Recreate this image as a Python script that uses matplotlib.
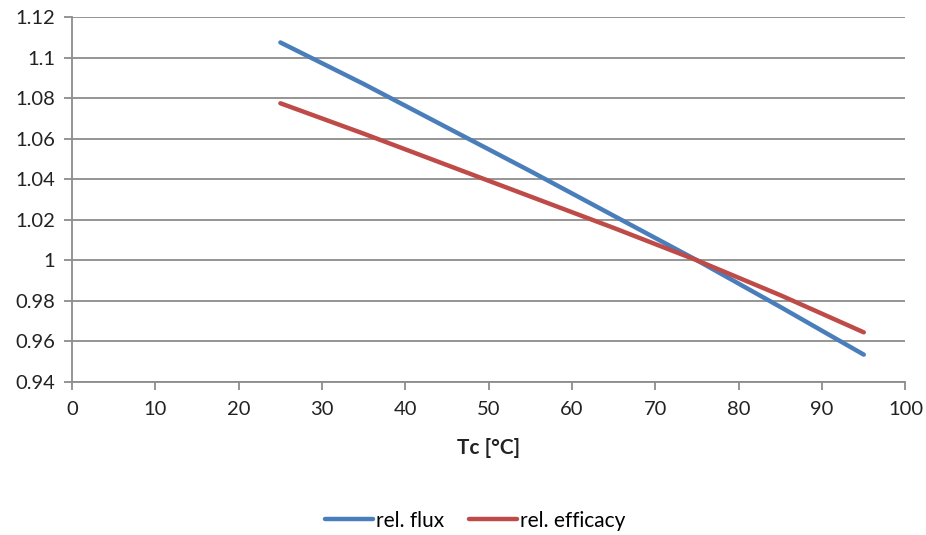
import matplotlib
matplotlib.use("Agg")
import matplotlib.pyplot as plt
import numpy as np

# values
tc = [25, 35, 45, 55, 65, 75, 85, 95]
rel_flux = [1.1075, 1.087, 1.0655, 1.044, 1.022, 1.0, 0.977, 0.9535]
rel_efficacy = [1.0775, 1.0625, 1.047, 1.0315, 1.016, 1.0, 0.9828, 0.9645]

plt.rcParams['font.family'] = ['Lato', 'DejaVu Sans']

fig = plt.figure(figsize=(9.26, 5.35), dpi=100)
ax = fig.add_axes([0.0778, 0.286, 0.9, 0.682])

grid_col = '#8c8c8c'
ax.plot(tc, rel_flux, color='#4a7ebb', lw=3.2, solid_capstyle='round', label='rel. flux')
ax.plot(tc, rel_efficacy, color='#be4b48', lw=3.2, solid_capstyle='round', label='rel. efficacy')

ax.set_xlim(0, 100)
ax.set_ylim(0.94, 1.12)
ax.set_xticks(np.arange(0, 101, 10))
ax.set_yticks(np.arange(0.94, 1.121, 0.02))
ax.set_yticklabels(['0.94', '0.96', '0.98', '1', '1.02', '1.04', '1.06', '1.08', '1.1', '1.12'])
ax.grid(axis='y', color=grid_col, lw=1.3)
ax.set_axisbelow(True)
for s in ['top', 'right']:
    ax.spines[s].set_visible(False)
for s in ['left', 'bottom']:
    ax.spines[s].set_color(grid_col)
    ax.spines[s].set_linewidth(1.3)
ax.tick_params(axis='both', colors=grid_col, length=6, width=1.3, labelsize=14.5, labelcolor='#222222')
ax.tick_params(axis='y', pad=6)
ax.tick_params(axis='x', pad=8)

ax.set_xlabel('Tc [°C]', fontsize=15, fontweight='bold', color='#222222', labelpad=14)

fig.legend(loc='center', bbox_to_anchor=(0.513, 0.027), ncol=2, frameon=False,
           fontsize=15, handlelength=2.3, handletextpad=0.15, columnspacing=1.2)

fig.savefig('out.png', dpi=100)
